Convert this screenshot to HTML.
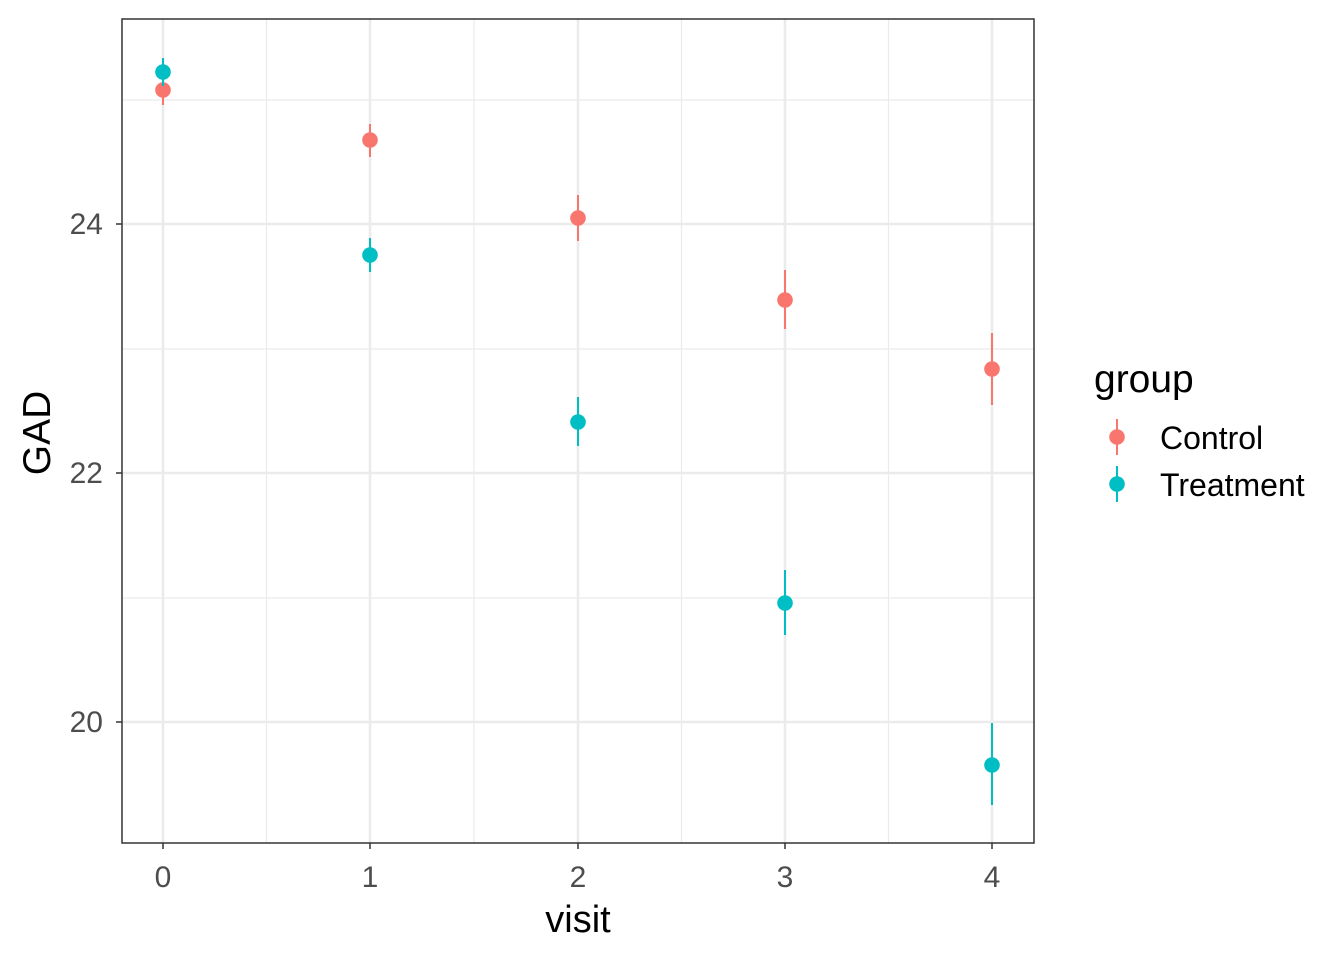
<!DOCTYPE html>
<html><head><meta charset="utf-8"><style>body{margin:0;background:#fff}</style></head><body>
<svg width="1344" height="960" xmlns="http://www.w3.org/2000/svg" font-family="Liberation Sans, sans-serif">
<rect width="1344" height="960" fill="#fff"/>
<g stroke="#ebebeb" stroke-width="1.2">
<line x1="122" x2="1034" y1="100" y2="100"/><line x1="122" x2="1034" y1="349" y2="349"/><line x1="122" x2="1034" y1="598" y2="598"/>
<line y1="19" y2="843" x1="266.5" x2="266.5"/><line y1="19" y2="843" x1="474" x2="474"/><line y1="19" y2="843" x1="681.5" x2="681.5"/><line y1="19" y2="843" x1="888.5" x2="888.5"/>
</g>
<g stroke="#ebebeb" stroke-width="2.6">
<line x1="122" x2="1034" y1="224" y2="224"/><line x1="122" x2="1034" y1="473" y2="473"/><line x1="122" x2="1034" y1="722" y2="722"/>
<line y1="19" y2="843" x1="163" x2="163"/><line y1="19" y2="843" x1="370" x2="370"/><line y1="19" y2="843" x1="578" x2="578"/><line y1="19" y2="843" x1="785" x2="785"/><line y1="19" y2="843" x1="992" x2="992"/>
</g>
<g stroke="#F8766D" stroke-width="2" fill="#F8766D">
<line x1="163" x2="163" y1="76" y2="105"/><circle cx="163" cy="90" r="7.8" stroke="none"/>
<line x1="370" x2="370" y1="124" y2="157"/><circle cx="370" cy="140" r="7.8" stroke="none"/>
<line x1="578" x2="578" y1="195" y2="241"/><circle cx="578" cy="218" r="7.8" stroke="none"/>
<line x1="785" x2="785" y1="270" y2="329"/><circle cx="785" cy="300" r="7.8" stroke="none"/>
<line x1="992" x2="992" y1="333" y2="405"/><circle cx="992" cy="369" r="7.8" stroke="none"/>
</g>
<g stroke="#00BFC4" stroke-width="2" fill="#00BFC4">
<line x1="163" x2="163" y1="58" y2="86"/><circle cx="163" cy="72" r="7.8" stroke="none"/>
<line x1="370" x2="370" y1="238" y2="272"/><circle cx="370" cy="255" r="7.8" stroke="none"/>
<line x1="578" x2="578" y1="397" y2="446"/><circle cx="578" cy="422" r="7.8" stroke="none"/>
<line x1="785" x2="785" y1="570" y2="635"/><circle cx="785" cy="603" r="7.8" stroke="none"/>
<line x1="992" x2="992" y1="723" y2="805"/><circle cx="992" cy="765" r="7.8" stroke="none"/>
</g>
<rect x="122" y="19" width="912" height="824" fill="none" stroke="#333" stroke-width="1.5"/>
<g stroke="#333" stroke-width="1.5">
<line x1="116" x2="122" y1="224" y2="224"/><line x1="116" x2="122" y1="473" y2="473"/><line x1="116" x2="122" y1="722" y2="722"/>
<line x1="163" x2="163" y1="843" y2="849"/><line x1="370" x2="370" y1="843" y2="849"/><line x1="578" x2="578" y1="843" y2="849"/><line x1="785" x2="785" y1="843" y2="849"/><line x1="992" x2="992" y1="843" y2="849"/>
</g>
<g fill="#4d4d4d" font-size="30" text-anchor="end">
<text x="103" y="234">24</text><text x="103" y="483">22</text><text x="103" y="732">20</text>
</g>
<g fill="#4d4d4d" font-size="30" text-anchor="middle">
<text x="163" y="887">0</text><text x="370" y="887">1</text><text x="578" y="887">2</text><text x="785" y="887">3</text><text x="992" y="887">4</text>
</g>
<text x="578" y="932" font-size="38" text-anchor="middle">visit</text>
<text transform="translate(50,433) rotate(-90)" font-size="39" text-anchor="middle">GAD</text>
<text x="1094" y="392" font-size="39">group</text>
<line x1="1117" x2="1117" y1="419" y2="455" stroke="#F8766D" stroke-width="2"/><circle cx="1117" cy="437" r="7.8" fill="#F8766D"/>
<line x1="1117" x2="1117" y1="466" y2="502" stroke="#00BFC4" stroke-width="2"/><circle cx="1117" cy="484" r="7.8" fill="#00BFC4"/>
<text x="1160" y="449" font-size="32">Control</text>
<text x="1160" y="496" font-size="32">Treatment</text>
</svg>
</body></html>
